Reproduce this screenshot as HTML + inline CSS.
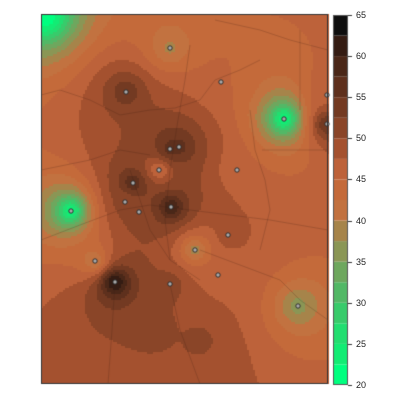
<!DOCTYPE html>
<html><head><meta charset="utf-8">
<style>
body{margin:0;background:#fff;width:400px;height:400px;overflow:hidden;font-family:"Liberation Sans",sans-serif;}
#wrap{position:relative;width:400px;height:400px;}
canvas{position:absolute;left:0;top:0;}
.tk{position:absolute;font-size:9px;color:#222;left:356px;}
</style></head><body>
<div id="wrap">
<canvas id="c" width="400" height="400"></canvas>
<div id="ticks"></div>
</div>
<script>
// station locations (map positions) and measured values
const stationX = [45,170,126,221,284,327,327,170,179,159,237,133,125,139,171,71,228,195,95,115,170,218,298,143,150,200,185];
const stationY = [16,48,92,82,119,124,95,149,147,170,170,183,202,212,207,211,235,250,261,282,284,275,306,386,330,340,375];
const stationVal = [19,39,55,45,21,56,47,57,57,43,45,59,51,52,62,21,49,37,39,65,52,46,36,48,52,51,50];
const showMarker = [0,1,1,1,1,1,1,1,1,1,1,1,1,1,1,1,1,1,1,1,1,1,1,0,0,0,0];
const levels = [20,22.5,25,27.5,30,32.5,35,37.5,40,42.5,45,47.5,50,52.5,55,57.5,60,62.5,65];
const palette = ["#00ff7f","#12ec74","#22de70","#38cb6b","#52b866","#6ea75e","#8a9655","#a6844a","#c27240","#c46a3a","#bd623a","#a4512f","#8a4528","#733a22","#5e301d","#4a2718","#341c13","#0e0e0e"];
const tickVals = [20,25,30,35,40,45,50,55,60,65];

const X0=41,X1=328,Y0=14,Y1=384;
const cv=document.getElementById('c'),ctx=cv.getContext('2d');
function colorFor(v){for(let i=0;i<palette.length;i++){if(v<levels[i+1])return palette[i];}return palette[palette.length-1];}
function idw(x,y){let n=0,d=0;for(let i=0;i<stationX.length;i++){const dx=x-stationX[i],dy=y-stationY[i];const r2=dx*dx+dy*dy+20;const w=1/Math.pow(r2,0.9);n+=w*stationVal[i];d+=w;}
 const w0=1/9000;n+=w0*46;d+=w0;return n/d;}
const step=2;
for(let x=X0;x<X1;x+=step){for(let y=Y0;y<Y1;y+=step){ctx.fillStyle=colorFor(idw(x+1,y+1));ctx.fillRect(x,y,step,step);}}
// faint map lines
ctx.strokeStyle="rgba(60,30,20,0.35)";ctx.lineWidth=0.6;
const roads=[[[41,95],[60,90],[90,100],[120,115],[150,110],[175,108],[200,100],[215,80],[240,70],[260,60]],[[41,240],[80,225],[120,210],[150,205],[190,210],[230,215],[270,220],[328,230]],[[115,282],[112,330],[108,384]],[[170,284],[180,330],[200,384]],[[190,45],[185,80],[178,120],[170,170],[165,220],[170,260]],[[200,250],[240,265],[280,280],[300,300],[328,320]],[[41,170],[90,160],[120,150],[150,155]],[[262,150],[328,150]],[[250,110],[255,150],[265,180],[270,210],[260,250]],[[130,170],[150,230],[170,260],[200,280]],[[215,20],[260,30],[290,40],[328,50]],[[300,30],[300,110]]];
roads.forEach(r=>{ctx.beginPath();r.forEach((p,i)=>i?ctx.lineTo(p[0],p[1]):ctx.moveTo(p[0],p[1]));ctx.stroke();});
// stations
for(let i=0;i<stationX.length;i++){if(!showMarker[i])continue;ctx.beginPath();ctx.arc(stationX[i],stationY[i],2.2,0,Math.PI*2);ctx.fillStyle="#aaa";ctx.fill();ctx.strokeStyle="#222";ctx.lineWidth=0.9;ctx.stroke();}
ctx.strokeStyle="#333";ctx.lineWidth=1;ctx.strokeRect(X0+0.5,Y0+0.5,X1-X0-1,Y1-Y0-1);
// colorbar
const CB0=15,CB1=385,CX=333,CW=15;
function cy(v){return CB1-(v-20)/45*(CB1-CB0);}
for(let i=0;i<palette.length;i++){ctx.fillStyle=palette[i];ctx.fillRect(CX,cy(levels[i+1]),CW,cy(levels[i])-cy(levels[i+1]));}
ctx.strokeStyle="#555";ctx.strokeRect(CX+0.5,CB0+0.5,CW-1,CB1-CB0-1);
const tk=document.getElementById('ticks');
tickVals.forEach(v=>{const y=Math.round(cy(v))+0.5;ctx.beginPath();ctx.moveTo(CX+CW,y);ctx.lineTo(CX+CW+4,y);ctx.strokeStyle="#333";ctx.stroke();
 const d=document.createElement('div');d.className='tk';d.style.top=(y-6)+'px';d.textContent=v;
 
 
 tk.appendChild(d);});
</script>
</body></html>
